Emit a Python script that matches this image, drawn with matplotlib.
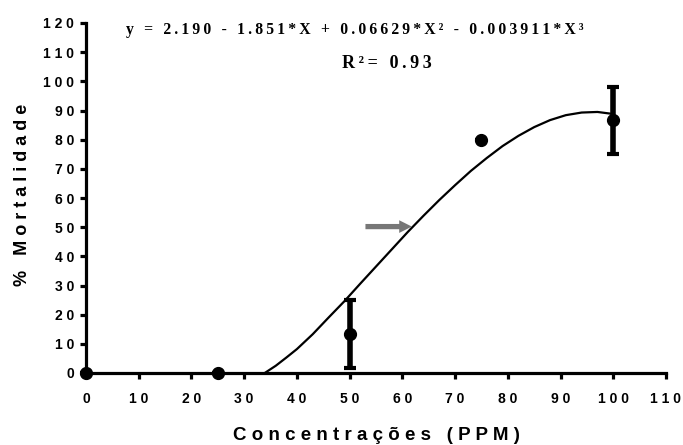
import matplotlib
matplotlib.use("Agg")
import matplotlib.pyplot as plt

# data
conc = [0, 25, 50, 75, 100]
mortality = [0, 0, 13.33, 80, 86.67]
err = [0, 0, 11.55, 0, 11.55]

# fitted curve as drawn in the reference (read point by point)
curve_x = [33.9, 36, 38, 40, 43, 46, 49, 52, 55, 58, 61, 64, 67, 70,
           73, 76, 79, 82, 85, 88, 91, 94, 97, 100]
curve_y = [0, 2.5, 5.3, 8.2, 13.3, 19.0, 24.6, 30.6, 36.5, 42.4, 48.3, 53.9, 59.3, 64.4,
           69.3, 73.7, 77.8, 81.3, 84.3, 86.7, 88.4, 89.3, 89.5, 88.8]

arrow_from = (53.0, 50.2)
arrow_to = (61.8, 50.2)

x_ticks = list(range(0, 111, 10))
y_ticks = list(range(0, 121, 10))

equation = "y = 2.190 - 1.851*X + 0.06629*X\u00b2 - 0.003911*X\u00b3"
r_squared = "R\u00b2= 0.93"

TH = "\u2009"


def spaced(s, sep=TH):
    return sep.join(s)


plt.rcParams['font.family'] = ['Liberation Sans', 'DejaVu Sans']
plt.rcParams['font.weight'] = 'bold'

W, H = 683, 445
fig = plt.figure(figsize=(W / 100, H / 100), dpi=100)
ax = fig.add_axes([86 / W, 1 - 373 / H, 580 / W, 350 / H])

ax.plot(curve_x, curve_y, color='black', lw=1.6, zorder=2)
ax.errorbar(conc, mortality, yerr=err, fmt='o', color='black', ms=8.5,
            elinewidth=4, capsize=4.5, capthick=3, zorder=3, clip_on=False)

# grey arrow pointing at the curve
ax.arrow(arrow_from[0], arrow_from[1], arrow_to[0] - arrow_from[0], 0,
         width=1.8, head_width=4.35, head_length=2.4, length_includes_head=True,
         color='#777777', lw=0, zorder=2)

ax.set_xlim(0, 110)
ax.set_ylim(0, 120)
ax.set_xticks(x_ticks)
ax.set_yticks(y_ticks)
ax.set_xticklabels([spaced(str(t), " ") for t in x_ticks], fontsize=10, fontweight='bold')
ax.set_yticklabels([spaced(str(t), " ") for t in y_ticks], fontsize=10, fontweight='bold')

for side in ['top', 'right']:
    ax.spines[side].set_visible(False)
for side in ['left', 'bottom']:
    ax.spines[side].set_linewidth(2.3)
ax.tick_params(axis='both', length=4.5, width=2.3, direction='out')
ax.tick_params(axis='x', pad=9)
ax.tick_params(axis='y', pad=4)

# axis titles
fig.text(376 / W, 1 - 435 / H, spaced("Concentrações (PPM)", " "), fontsize=13.5,
         fontweight='bold', ha='center', va='center')
fig.text(23 / W, 1 - 195 / H, spaced("% Mortalidade", " "), fontsize=13,
         fontweight='bold', rotation=90, ha='center', va='center')

# fit equation
fig.text(355 / W, 1 - 33.5 / H, spaced(equation), fontsize=11.3, fontweight='bold',
         family='Liberation Serif', ha='center', va='baseline')
fig.text(387 / W, 1 - 68 / H, spaced(r_squared), fontsize=13, fontweight='bold',
         family='Liberation Serif', ha='center', va='baseline')

fig.savefig("out.png", dpi=100)
